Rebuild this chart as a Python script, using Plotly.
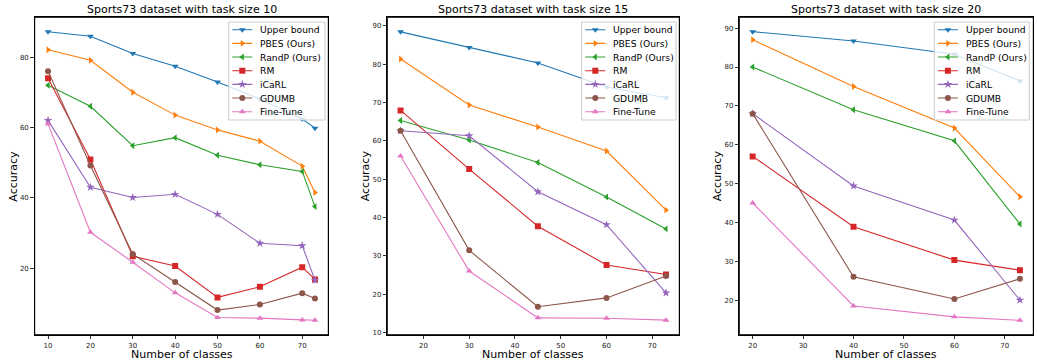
import plotly.graph_objects as go

# ---------------- data ----------------
methods = ["Upper bound", "PBES (Ours)", "RandP (Ours)", "RM", "iCaRL", "GDUMB", "Fine-Tune"]
colors = ["#1f77b4", "#ff7f0e", "#2ca02c", "#d62728", "#9467bd", "#8c564b", "#e377c2"]
symbols = ["triangle-down", "triangle-right", "triangle-left", "square", "star", "circle", "triangle-up"]

titles = ["Sports73 dataset with task size 10",
          "Sports73 dataset with task size 15",
          "Sports73 dataset with task size 20"]
x_label = "Number of classes"
y_label = "Accuracy"

x_ts10 = [10, 20, 30, 40, 50, 60, 70, 73]
upper_ts10 = [87.2, 85.9, 81.0, 77.4, 72.9, 68.1, 62.4, 59.8]
pbes_ts10 = [82.1, 79.1, 70.0, 63.5, 59.3, 56.1, 49.0, 41.5]
randp_ts10 = [72.0, 66.0, 54.8, 57.1, 52.1, 49.4, 47.5, 37.5]
rm_ts10 = [74.0, 50.9, 23.4, 20.6, 11.7, 14.7, 20.3, 16.8]
icarl_ts10 = [62.0, 43.0, 40.1, 41.0, 35.3, 27.1, 26.4, 16.6]
gdumb_ts10 = [76.0, 49.2, 24.0, 16.1, 8.1, 9.7, 12.9, 11.4]
finetune_ts10 = [61.0, 30.2, 21.7, 13.0, 6.0, 5.8, 5.3, 5.2]

x_ts15 = [15, 30, 45, 60, 73]
upper_ts15 = [88.4, 84.3, 80.3, 74.0, 71.2]
pbes_ts15 = [81.3, 69.3, 63.6, 57.3, 41.9]
randp_ts15 = [65.3, 60.2, 54.3, 45.3, 37.0]
rm_ts15 = [67.9, 52.6, 37.7, 27.6, 25.1]
icarl_ts15 = [62.6, 61.3, 46.7, 38.1, 20.3]
gdumb_ts15 = [62.6, 31.4, 16.7, 19.0, 24.7]
finetune_ts15 = [56.0, 26.0, 13.8, 13.7, 13.2]

x_ts20 = [20, 40, 60, 73]
upper_ts20 = [89.1, 86.7, 83.3, 76.4]
pbes_ts20 = [87.0, 75.0, 64.3, 46.6]
randp_ts20 = [80.0, 69.0, 61.0, 39.6]
rm_ts20 = [57.0, 38.9, 30.3, 27.7]
icarl_ts20 = [68.0, 49.4, 40.6, 20.0]
gdumb_ts20 = [68.0, 26.0, 20.3, 25.5]
finetune_ts20 = [45.0, 18.5, 15.7, 14.8]

panels = [
    (x_ts10, [upper_ts10, pbes_ts10, randp_ts10, rm_ts10, icarl_ts10, gdumb_ts10, finetune_ts10]),
    (x_ts15, [upper_ts15, pbes_ts15, randp_ts15, rm_ts15, icarl_ts15, gdumb_ts15, finetune_ts15]),
    (x_ts20, [upper_ts20, pbes_ts20, randp_ts20, rm_ts20, icarl_ts20, gdumb_ts20, finetune_ts20]),
]

# ---------------- layout geometry (pixels) ----------------
W, H = 1037, 362
PLOT_LR = [(34.7, 328.3), (387.3, 679.3), (739.3, 1033.3)]
PLOT_TOP, PLOT_BOT = 17.3, 334.7
x_ranges = [[6.85, 76.15], [12.1, 75.9], [17.35, 75.65]]
y_ranges = [[1.1, 91.3], [9.4, 92.2], [11.1, 92.8]]
y_dticks = [20, 10, 10]
LEG_BOX = [(228.7, 325.0), (581.7, 676.0), (934.3, 1029.3)]
LEG_TOP, LEG_BOT = 22.0, 120.0
LEG_ROW0, LEG_DY = 29.7, 13.67

FONT = "DejaVu Sans"


def px_x(v):
    return v / W


def px_y(v):
    return 1 - v / H


def msize(sym):
    return 6.5 if sym == "star" else 6


fig = go.Figure()

# data traces
for p, (xs, series) in enumerate(panels):
    ax = "" if p == 0 else str(p + 1)
    for i, ys in enumerate(series):
        sym = symbols[i]
        fig.add_trace(go.Scatter(
            x=xs, y=ys, mode="lines+markers", name=methods[i], showlegend=False,
            line=dict(color=colors[i], width=1.1),
            marker=dict(symbol=sym, color=colors[i], size=msize(sym), line=dict(width=0)),
            xaxis="x" + ax, yaxis="y" + ax,
        ))

annotations = []
shapes = []
layout = dict(
    template="none",
    width=W, height=H, autosize=False,
    margin=dict(l=0, r=0, t=0, b=0, pad=0),
    paper_bgcolor="white", plot_bgcolor="white",
    font=dict(family=FONT, color="black"),
    showlegend=False,
)

axis_common = dict(showline=True, mirror=True, linecolor="black", linewidth=1,
                   ticks="outside", ticklen=3.5, tickwidth=0.8, tickcolor="black",
                   showgrid=False, zeroline=False, automargin=False,
                   tickfont=dict(size=7, family=FONT, color="#222"))

for p in range(3):
    ax = "" if p == 0 else str(p + 1)
    L, R = PLOT_LR[p]
    dom_x = [px_x(L), px_x(R)]
    dom_y = [px_y(PLOT_BOT), px_y(PLOT_TOP)]
    layout["xaxis" + ax] = dict(axis_common, domain=dom_x, range=x_ranges[p], dtick=10, tick0=0,
                                anchor="y" + ax)
    layout["yaxis" + ax] = dict(axis_common, domain=dom_y, range=y_ranges[p], dtick=y_dticks[p],
                                tick0=0, anchor="x" + ax)

    # frame around the plot area
    shapes.append(dict(type="rect", xref="x" + ax + " domain", yref="y" + ax + " domain",
                       x0=0, x1=1, y0=0, y1=1, line=dict(color="black", width=1),
                       fillcolor="rgba(0,0,0,0)", layer="above"))

    # overlay axes in pixel units for the legend (drawn above the data)
    k = str(4 + p)
    layout["xaxis" + k] = dict(overlaying="x" + ax, anchor="y" + k, range=[L, R], visible=False,
                               fixedrange=True, showgrid=False, zeroline=False)
    layout["yaxis" + k] = dict(overlaying="y" + ax, anchor="x" + k, range=[PLOT_BOT, PLOT_TOP],
                               visible=False, fixedrange=True, showgrid=False, zeroline=False)

    bl, br = LEG_BOX[p]
    fig.add_trace(go.Scatter(
        x=[bl, br, br, bl, bl], y=[LEG_TOP, LEG_TOP, LEG_BOT, LEG_BOT, LEG_TOP],
        mode="lines", fill="toself", fillcolor="rgba(255,255,255,0.8)",
        line=dict(color="#cccccc", width=1), hoverinfo="skip", showlegend=False,
        xaxis="x" + k, yaxis="y" + k,
    ))
    for i, name in enumerate(methods):
        yy = LEG_ROW0 + i * LEG_DY
        fig.add_trace(go.Scatter(
            x=[bl + 3.6, bl + 23.6], y=[yy, yy], mode="lines",
            line=dict(color=colors[i], width=1.1), hoverinfo="skip", showlegend=False,
            xaxis="x" + k, yaxis="y" + k,
        ))
        fig.add_trace(go.Scatter(
            x=[bl + 13.6], y=[yy], mode="markers",
            marker=dict(symbol=symbols[i], color=colors[i], size=msize(symbols[i]),
                        line=dict(width=0)),
            hoverinfo="skip", showlegend=False, xaxis="x" + k, yaxis="y" + k,
        ))
        annotations.append(dict(
            text=name, xref="x" + k, yref="y" + k, x=bl + 29.6, y=yy,
            xanchor="left", yanchor="middle", showarrow=False,
            font=dict(size=9.2, family=FONT, color="black"),
        ))

    cx = (L + R) / 2
    annotations.append(dict(
        text=titles[p], xref="paper", yref="paper", x=px_x(cx), y=px_y(9.5),
        xanchor="center", yanchor="middle", showarrow=False,
        font=dict(size=11, family=FONT, color="black"),
    ))
    annotations.append(dict(
        text=x_label, xref="paper", yref="paper", x=px_x(cx), y=px_y(354),
        xanchor="center", yanchor="middle", showarrow=False,
        font=dict(size=11, family=FONT, color="black"),
    ))
    annotations.append(dict(
        text=y_label, xref="paper", yref="paper", x=px_x(L - 22), y=px_y((PLOT_TOP + PLOT_BOT) / 2),
        xanchor="center", yanchor="middle", showarrow=False, textangle=-90,
        font=dict(size=11, family=FONT, color="black"),
    ))

layout["annotations"] = annotations
layout["shapes"] = shapes
fig.update_layout(layout)
fig.write_html(
    "out.html",
    config={"displayModeBar": False, "staticPlot": True},
    post_script="document.body.style.margin='0';document.body.style.padding='0';"
                "document.documentElement.style.overflow='hidden';",
)
